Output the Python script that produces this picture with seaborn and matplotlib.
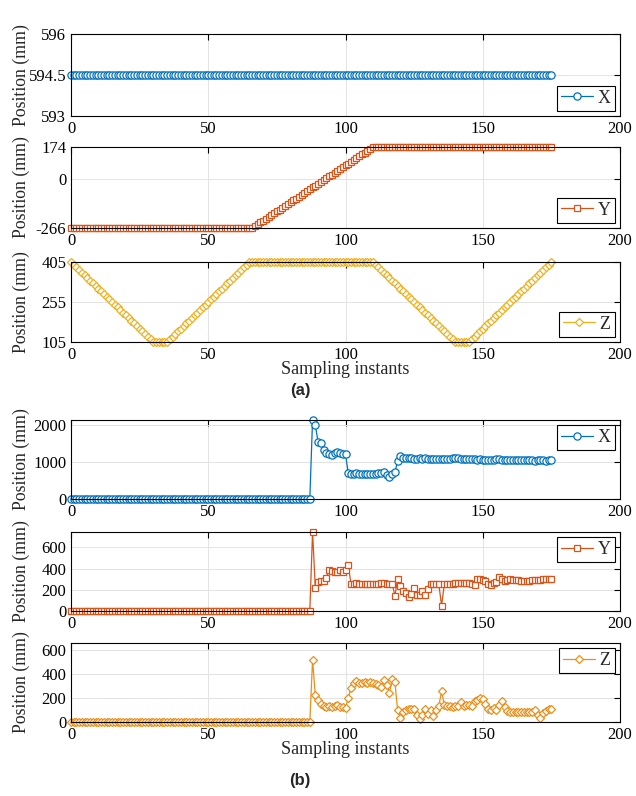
import matplotlib
matplotlib.use("Agg")
import matplotlib.pyplot as plt
import seaborn as sns
import numpy as np
import pandas as pd

# ---------------- data ----------------
n_samples = 176
samples = list(range(n_samples))

# (a) reference trajectory
x_ref = [594.5] * 176
y_ramp = [-256, -246, -236, -226, -216, -206, -196, -186, -176, -166, -156,
          -146, -136, -126, -116, -106, -96, -86, -76, -66, -56, -46, -36,
          -26, -16, -6, 4, 14, 24, 34, 44, 54, 64, 74, 84, 94, 104, 114, 124,
          134, 144, 154, 164, 174]
y_ref = [-266] * 67 + y_ramp + [174] * 65
z_down = [405, 395, 385, 375, 365, 355, 345, 335, 325, 315, 305, 295, 285,
          275, 265, 255, 245, 235, 225, 215, 205, 195, 185, 175, 165, 155,
          145, 135, 125, 115, 105]
z_up = [115, 125, 135, 145, 155, 165, 175, 185, 195, 205, 215, 225, 235, 245,
        255, 265, 275, 285, 295, 305, 315, 325, 335, 345, 355, 365, 375, 385,
        395, 405]
z_ref = z_down + [105] * 5 + z_up + [405] * 45 + z_down[1:] + [105] * 5 + z_up

# (b) measured trajectory: idle until sample 87, then tracked values
x_meas = [0] * 88 + [
    2145, 2010, 1550, 1530, 1340, 1250, 1210, 1190, 1250, 1270, 1260, 1230,
    1215, 700, 685, 690, 695, 690, 685, 690, 690, 685, 690, 690, 695, 710,
    745, 660, 600, 680, 725, 1030, 1180, 1100, 1110, 1115, 1110, 1095, 1085,
    1100, 1095, 1110, 1090, 1085, 1090, 1080, 1090, 1085, 1090, 1095, 1090,
    1100, 1110, 1100, 1095, 1085, 1080, 1080, 1075, 1080, 1070, 1075, 1070,
    1070, 1065, 1070, 1065, 1075, 1080, 1070, 1065, 1060, 1065, 1060, 1060,
    1055, 1060, 1055, 1050, 1055, 1050, 1045, 1050, 1055, 1050, 1045, 1050,
    1055]
y_meas = [0] * 88 + [
    745, 217, 273, 279, 285, 310, 388, 381, 366, 372, 388, 372, 388, 434,
    257, 257, 267, 250, 252, 250, 250, 250, 252, 250, 255, 260, 265, 255,
    255, 258, 144, 304, 234, 192, 170, 128, 160, 218, 154, 154, 186, 154,
    211, 250, 250, 250, 252, 51, 250, 250, 255, 255, 260, 262, 268, 265,
    262, 260, 258, 242, 298, 300, 295, 280, 258, 245, 260, 275, 320, 305,
    285, 290, 300, 295, 290, 290, 285, 282, 280, 285, 288, 290, 292, 295,
    298, 298, 300, 300]
z_meas = [0] * 88 + [
    514, 222, 180, 147, 135, 128, 135, 125, 130, 138, 125, 128, 120, 195,
    286, 320, 342, 320, 325, 333, 322, 333, 325, 314, 306, 292, 347, 306,
    242, 353, 328, 97, 36, 83, 103, 108, 111, 105, 56, 28, 56, 108, 70, 97,
    47, 103, 131, 256, 139, 131, 130, 128, 132, 130, 167, 135, 139, 142,
    135, 175, 186, 195, 190, 150, 110, 103, 118, 100, 142, 175, 125, 92, 83,
    83, 85, 83, 83, 85, 83, 83, 85, 97, 60, 36, 75, 95, 108, 108]

# axis limits / ticks
x_limits = (0, 200)
x_ticks = [0, 50, 100, 150, 200]
panels = [
    # values, name, colour, marker, ylim, yticks, tick labels, legend loc
    (x_ref, "X", "#0072BD", "o", (593, 596), [593, 594.5, 596], ["593", "594.5", "596"], "lower right"),
    (y_ref, "Y", "#D95319", "s", (-266, 174), [-266, 0, 174], ["-266", "0", "174"], "lower right"),
    (z_ref, "Z", "#EDB120", "D", (105, 405), [105, 255, 405], ["105", "255", "405"], "lower right"),
    (x_meas, "X", "#0072BD", "o", (0, 2145), [0, 1000, 2000], ["0", "1000", "2000"], "upper right"),
    (y_meas, "Y", "#D95319", "s", (0, 745), [0, 200, 400, 600], ["0", "200", "400", "600"], "upper right"),
    (z_meas, "Z", "#E8901C", "D", (0, 655), [0, 200, 400, 600], ["0", "200", "400", "600"], "upper right"),
]

# ---------------- figure ----------------
sns.set_style("white")
plt.rcParams["font.family"] = ["Liberation Serif", "DejaVu Serif"]

W, H = 636, 796
fig = plt.figure(figsize=(W / 100, H / 100), dpi=100)

left_px, right_px = 71, 620
boxes_px = [(34, 116), (147, 228), (262, 342), (420, 499), (532, 611), (643, 722)]
marker_size = {"o": 5.2, "s": 4.6, "D": 4.4}

axes = []
for (vals, name, color, mk, ylim, yt, ytl, loc), (top, bot) in zip(panels, boxes_px):
    ax = fig.add_axes([left_px / W, 1 - bot / H, (right_px - left_px) / W, (bot - top) / H])
    df = pd.DataFrame({"sample": samples, "pos": vals})
    sns.lineplot(data=df, x="sample", y="pos", ax=ax, color=color,
                 marker=mk, markersize=marker_size[mk], markerfacecolor="white",
                 markeredgecolor=color, markeredgewidth=0.9, linewidth=0.9,
                 estimator=None, sort=False, label=name, clip_on=False)
    ax.set_xlim(*x_limits)
    ax.set_ylim(*ylim)
    ax.set_xticks(x_ticks)
    ax.set_yticks(yt)
    ax.set_yticklabels(ytl)
    ax.grid(True, color="#e3e3e3", linewidth=0.7)
    ax.set_axisbelow(True)
    for sp in ax.spines.values():
        sp.set_color("black")
        sp.set_linewidth(0.8)
    ax.tick_params(direction="in", length=4.5, width=0.8, top=True, right=True,
                   labelsize=12, colors="black", pad=3.5)
    ax.set_xlabel("")
    ax.set_ylabel("Position (mm)", fontsize=12.8, labelpad=1)
    ax.yaxis.set_label_coords(-0.074, 0.5)
    leg = ax.legend(loc=loc, fontsize=13, frameon=True, fancybox=False,
                    edgecolor="black", framealpha=1, handlelength=1.8,
                    handletextpad=0.25, borderpad=0.22, borderaxespad=0.3)
    leg.get_frame().set_linewidth(0.8)
    leg.set_zorder(5)
    axes.append(ax)

for ax in (axes[2], axes[5]):
    ax.set_xlabel("Sampling instants", fontsize=13, labelpad=-1)

fig.text(300 / W, 1 - 391 / H, "(a)", ha="center", va="center",
         fontsize=12, fontweight="bold", family=["Liberation Sans", "DejaVu Sans"])
fig.text(300 / W, 1 - 781 / H, "(b)", ha="center", va="center",
         fontsize=12, fontweight="bold", family=["Liberation Sans", "DejaVu Sans"])

fig.savefig("out.png", dpi=100)
